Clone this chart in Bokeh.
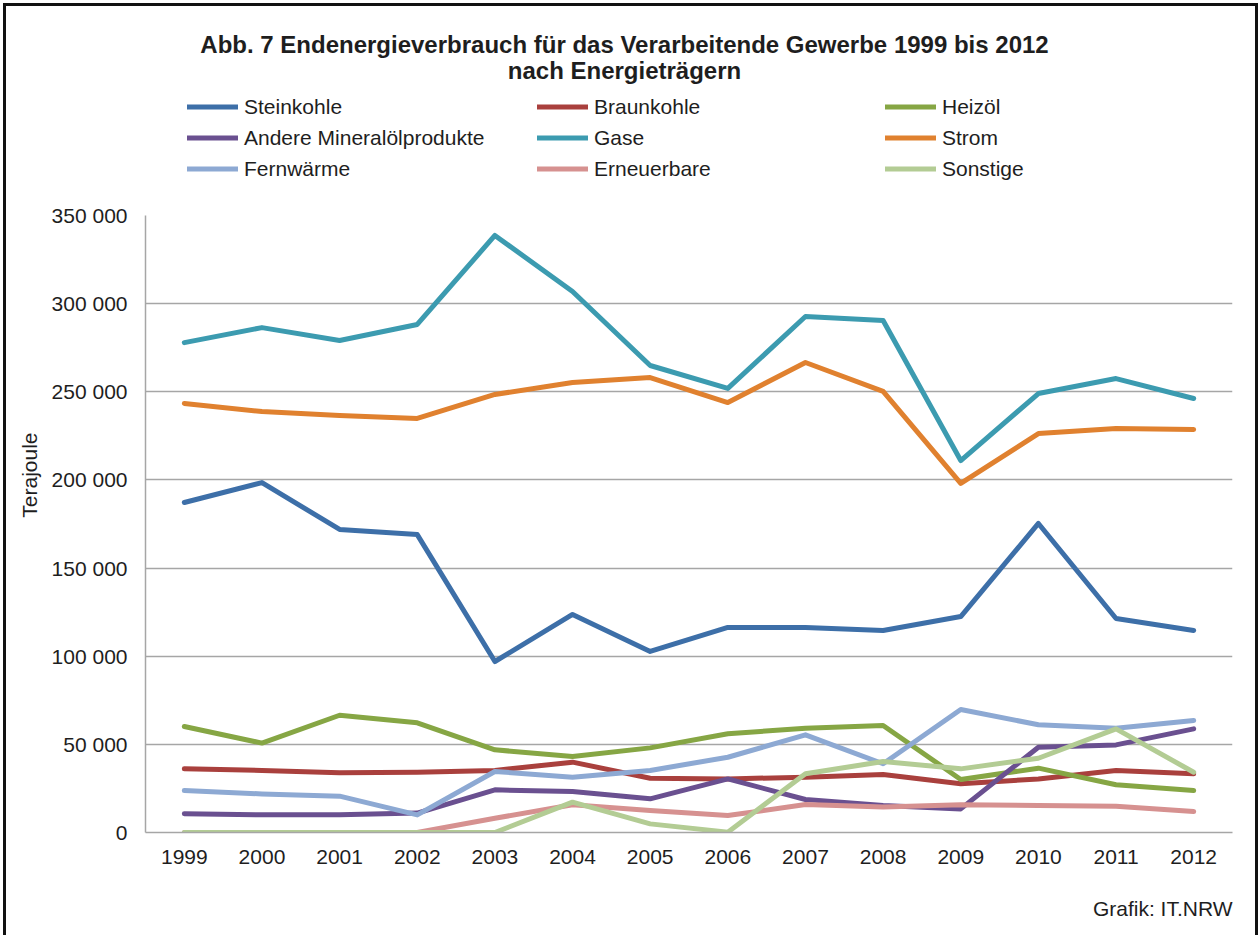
from bokeh.plotting import figure
from bokeh.models import (FixedTicker, Legend, LegendItem, Title, ColumnDataSource, Range1d)
from bokeh.layouts import column
from bokeh.embed import file_html
from bokeh.resources import INLINE
from bokeh.core.properties import value

years = list(range(1999, 2013))

steinkohle = [187200, 198500, 171900, 169000, 97000, 123700, 102700, 116300, 116300, 114600, 122500, 175300, 121400, 114600]
braunkohle = [36100, 35200, 33900, 34200, 35200, 39900, 30800, 30400, 31400, 32900, 27600, 30400, 35200, 33300]
heizoel = [60100, 50700, 66500, 62200, 46900, 43100, 48000, 56000, 59200, 60700, 30100, 36500, 27100, 23800]
andere = [10600, 10000, 10000, 11000, 24200, 23200, 19100, 30400, 18700, 15300, 13400, 48400, 49700, 58800]
gase = [277900, 286400, 279100, 288200, 338700, 306900, 264900, 251900, 292700, 290400, 211000, 249000, 257500, 246200]
strom = [243400, 238800, 236600, 234900, 248500, 255300, 258100, 243900, 266600, 250200, 198000, 226300, 229200, 228600]
fernwaerme = [23800, 21900, 20600, 10000, 34600, 31400, 35200, 42700, 55400, 39000, 69800, 61100, 59200, 63500]
erneuerbare = [0, 0, 0, 0, 8100, 15700, 12500, 9600, 15900, 14400, 15700, 15300, 14900, 11900]
sonstige = [0, 0, 0, 0, 0, 17200, 4900, 200, 33300, 40300, 36100, 42100, 58800, 34200]

series_names = ["Steinkohle", "Braunkohle", "Heizöl", "Andere Mineralölprodukte", "Gase",
                "Strom", "Fernwärme", "Erneuerbare", "Sonstige"]
series_values = [steinkohle, braunkohle, heizoel, andere, gase, strom, fernwaerme, erneuerbare, sonstige]
series_colors = ["#3D6FA8", "#A9403D", "#86A644", "#6A5090", "#3C9BB0",
                 "#E0812F", "#8DA9D3", "#D69190", "#B3CC94"]

y_ticks = [0, 50000, 100000, 150000, 200000, 250000, 300000, 350000]
y_tick_labels = ["0", "50 000", "100 000", "150 000", "200 000", "250 000", "300 000", "350 000"]

title_lines = ["Abb. 7 Endenergieverbrauch für das Verarbeitende Gewerbe 1999 bis 2012",
               "nach Energieträgern"]
y_label = "Terajoule"
credit = "Grafik: IT.NRW"

FONT = "Liberation Sans"
TXT = "#1e1e1e"
W = 1260
HH = 190                     # header height (title + legend)
HM = 935 - HH                # main chart height
FL, FT, FW, FH = 145, 215 - HH, 1087, 617

# ---------------- header: title and legend ----------------
# the column aligns the header frame with the main frame (x 145..1232),
# so header x data units equal page pixels
hdr = figure(width=W, height=HH, output_backend="svg", toolbar_location=None, title=None,
             x_range=Range1d(FL, FL + FW), y_range=Range1d(HH, 0),
             min_border_left=0, min_border_right=0, min_border_top=0, min_border_bottom=0)
hdr.axis.visible = False
hdr.grid.visible = False
hdr.outline_line_color = None
hdr.background_fill_alpha = 0
hdr.border_fill_alpha = 0

hdr.text(x=[624, 624], y=[44, 70], text=title_lines, text_align="center",
         text_baseline="middle", text_font=value(FONT), text_font_style="bold",
         text_font_size="24px", text_color=TXT)

nan = float("nan")
legend_lines = []
for name, col in zip(series_names, series_colors):
    r = hdr.line(x=[nan, nan], y=[nan, nan], line_color=col, line_width=5, line_cap="round")
    legend_lines.append(r)

col_x = [42, 392, 740]
for c in range(3):
    items = [LegendItem(label=series_names[c + 3 * k], renderers=[legend_lines[c + 3 * k]])
             for k in range(3)]
    lg = Legend(items=items, location=(col_x[c], HH - 91 - 93),
                orientation="vertical", glyph_width=51, glyph_height=31,
                label_height=31, spacing=0, padding=0, margin=0,
                label_standoff=6, border_line_color=None, background_fill_alpha=0,
                label_text_font=FONT, label_text_font_size="21px",
                label_text_color=TXT)
    hdr.add_layout(lg, "center")

# ---------------- main chart ----------------
p = figure(width=W, height=HM, output_backend="svg", toolbar_location=None, title=None,
           x_range=(1998.5, 2012.5), y_range=(0, 350000),
           min_border_left=FL, min_border_top=FT,
           min_border_right=W - FL - FW, min_border_bottom=HM - FT - FH)
p.outline_line_color = None
p.background_fill_color = "white"
p.border_fill_alpha = 0

p.xaxis.ticker = FixedTicker(ticks=years)
p.xaxis.major_label_overrides = {y: str(y) for y in years}
p.yaxis.ticker = FixedTicker(ticks=y_ticks)
p.yaxis.major_label_overrides = {t: l for t, l in zip(y_ticks, y_tick_labels)}
for ax in (p.xaxis, p.yaxis):
    ax.major_tick_line_color = None
    ax.minor_tick_line_color = None
    ax.major_tick_out = 0
    ax.major_tick_in = 0
    ax.axis_line_color = "#A6A6A6"
    ax.axis_line_width = 1.5
    ax.major_label_text_font = FONT
    ax.major_label_text_font_size = "21px"
    ax.major_label_text_color = TXT
p.xaxis.major_label_standoff = 17
p.yaxis.major_label_standoff = 18
p.xaxis.axis_label = " "
p.xaxis.axis_label_standoff = 0
p.xaxis.axis_label_text_font_size = "22px"
p.xgrid.grid_line_color = None
p.ygrid.grid_line_color = "#A6A6A6"
p.ygrid.grid_line_width = 1.5

for name, vals, col in zip(series_names, series_values, series_colors):
    src = ColumnDataSource(dict(x=years, y=vals))
    p.line("x", "y", source=src, line_color=col, line_width=5,
           line_join="round", line_cap="round")

p.add_layout(Title(text=y_label, align="right", offset=217, vertical_align="middle",
                   standoff=14, text_font=FONT, text_font_style="normal",
                   text_font_size="21px", text_color=TXT), "left")
p.add_layout(Title(text=credit, align="right", offset=0, vertical_align="bottom",
                   standoff=0, text_font=FONT, text_font_style="normal",
                   text_font_size="21px", text_color=TXT), "below")

layout = column(hdr, p, spacing=0)
layout.styles = {
    "background-color": "white",
    "box-shadow": ("inset 0 3px 0 0 #ffffff, inset 3px 0 0 0 #ffffff, inset -2px 0 0 0 #ffffff, "
                   "inset 0 6px 0 0 #111111, inset 6px 0 0 0 #111111, inset -5px 0 0 0 #111111"),
}

open("out.html", "w").write(file_html(layout, INLINE))
